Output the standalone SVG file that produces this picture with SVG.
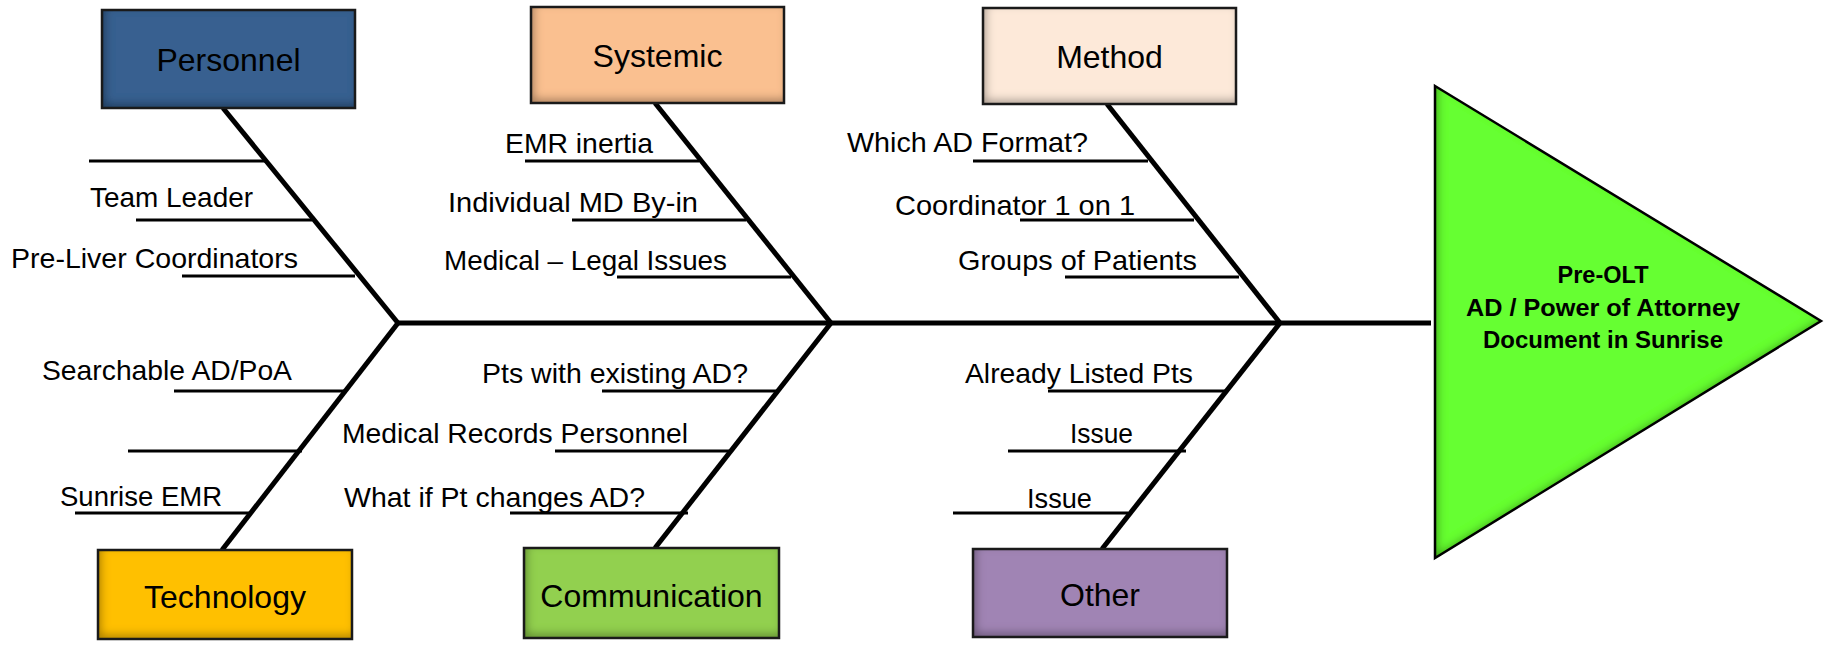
<svg xmlns="http://www.w3.org/2000/svg" width="1827" height="647" viewBox="0 0 1827 647">
<style>
.box{stroke:#1a1a1a;stroke-width:2.5}
.blabel{font-family:"Liberation Sans",Arial,sans-serif;font-size:32px;fill:#000;text-anchor:middle}
.lbl{font-family:"Liberation Sans",Arial,sans-serif;font-size:28px;fill:#000}
.bone{stroke:#000;stroke-width:5;stroke-linecap:butt;fill:none}
.sub{stroke:#000;stroke-width:2.8;fill:none}
.head{font-family:"Liberation Sans",Arial,sans-serif;font-size:24px;font-weight:bold;fill:#000;text-anchor:middle}
</style>
<defs>
<filter id="inner" x="-10%" y="-10%" width="120%" height="120%">
<feFlood flood-color="#000" flood-opacity="0.65" result="f"/>
<feComposite in="f" in2="SourceAlpha" operator="out" result="inv"/>
<feGaussianBlur in="inv" stdDeviation="5" result="b"/>
<feOffset in="b" dx="3" dy="-4" result="o"/>
<feComposite in="o" in2="SourceAlpha" operator="in" result="s"/>
<feMerge><feMergeNode in="SourceGraphic"/><feMergeNode in="s"/></feMerge>
</filter>
</defs>
<rect width="1827" height="647" fill="#fff"/>

<g id="connectors">
<line class="bone" x1="397" y1="323" x2="1431" y2="323"/>
<line class="bone" x1="223" y1="108" x2="398" y2="323"/>
<line class="bone" x1="655" y1="103" x2="831" y2="323"/>
<line class="bone" x1="1107" y1="104" x2="1280" y2="323"/>
<line class="bone" x1="222" y1="550" x2="398" y2="323"/>
<line class="bone" x1="655" y1="548" x2="831" y2="323"/>
<line class="bone" x1="1102" y1="549" x2="1280" y2="323"/>
<line class="sub" x1="89" y1="161" x2="265" y2="161"/>
<line class="sub" x1="136" y1="220" x2="312" y2="220"/>
<line class="sub" x1="182" y1="276" x2="355" y2="276"/>
<line class="sub" x1="525" y1="161" x2="699" y2="161"/>
<line class="sub" x1="572" y1="220" x2="746" y2="220"/>
<line class="sub" x1="617" y1="277" x2="791" y2="277"/>
<line class="sub" x1="973" y1="161" x2="1148" y2="161"/>
<line class="sub" x1="1020" y1="220" x2="1194" y2="220"/>
<line class="sub" x1="1065" y1="277" x2="1239" y2="277"/>
<line class="sub" x1="174" y1="391" x2="347" y2="391"/>
<line class="sub" x1="128" y1="451" x2="302" y2="451"/>
<line class="sub" x1="75" y1="513" x2="250" y2="513"/>
<line class="sub" x1="602" y1="391" x2="777" y2="391"/>
<line class="sub" x1="555" y1="451" x2="729" y2="451"/>
<line class="sub" x1="510" y1="513" x2="688" y2="513"/>
<line class="sub" x1="1048" y1="391" x2="1225" y2="391"/>
<line class="sub" x1="1008" y1="451" x2="1186" y2="451"/>
<line class="sub" x1="953" y1="513" x2="1128" y2="513"/>
</g>

<g id="personnel">
<rect x="102" y="10" width="253" height="98" fill="#386190" filter="url(#inner)"/>
<rect class="box" x="102" y="10" width="253" height="98" fill="none"/>
<text class="blabel" x="228.5" y="71">Personnel</text>
</g>
<g id="personnel-causes">
<text class="lbl" x="90" y="207" textLength="163" lengthAdjust="spacingAndGlyphs">Team Leader</text>
<text class="lbl" x="11" y="268" textLength="287" lengthAdjust="spacingAndGlyphs">Pre-Liver Coordinators</text>
</g>

<g id="systemic">
<rect x="531" y="7" width="253" height="96" fill="#FAC090" filter="url(#inner)"/>
<rect class="box" x="531" y="7" width="253" height="96" fill="none"/>
<text class="blabel" x="657.5" y="67">Systemic</text>
</g>
<g id="systemic-causes">
<text class="lbl" x="505" y="153" textLength="148" lengthAdjust="spacingAndGlyphs">EMR inertia</text>
<text class="lbl" x="448" y="212" textLength="250" lengthAdjust="spacingAndGlyphs">Individual MD By-in</text>
<text class="lbl" x="444" y="270" textLength="283" lengthAdjust="spacingAndGlyphs">Medical – Legal Issues</text>
</g>

<g id="method">
<rect x="983" y="8" width="253" height="96" fill="#FDE9D9" filter="url(#inner)"/>
<rect class="box" x="983" y="8" width="253" height="96" fill="none"/>
<text class="blabel" x="1109.5" y="68">Method</text>
</g>
<g id="method-causes">
<text class="lbl" x="847" y="152" textLength="241" lengthAdjust="spacingAndGlyphs">Which AD Format?</text>
<text class="lbl" x="895" y="215" textLength="240" lengthAdjust="spacingAndGlyphs">Coordinator 1 on 1</text>
<text class="lbl" x="958" y="270" textLength="239" lengthAdjust="spacingAndGlyphs">Groups of Patients</text>
</g>

<g id="technology">
<rect x="98" y="550" width="254" height="89" fill="#FFC000" filter="url(#inner)"/>
<rect class="box" x="98" y="550" width="254" height="89" fill="none"/>
<text class="blabel" x="225" y="608">Technology</text>
</g>
<g id="technology-causes">
<text class="lbl" x="42" y="380" textLength="250" lengthAdjust="spacingAndGlyphs">Searchable AD/PoA</text>
<text class="lbl" x="60" y="506" textLength="162" lengthAdjust="spacingAndGlyphs">Sunrise EMR</text>
</g>

<g id="communication">
<rect x="524" y="548" width="255" height="90" fill="#92D050" filter="url(#inner)"/>
<rect class="box" x="524" y="548" width="255" height="90" fill="none"/>
<text class="blabel" x="651.5" y="607">Communication</text>
</g>
<g id="communication-causes">
<text class="lbl" x="482" y="383" textLength="266" lengthAdjust="spacingAndGlyphs">Pts with existing AD?</text>
<text class="lbl" x="342" y="443" textLength="346" lengthAdjust="spacingAndGlyphs">Medical Records Personnel</text>
<text class="lbl" x="344" y="507" textLength="301" lengthAdjust="spacingAndGlyphs">What if Pt changes AD?</text>
</g>

<g id="other">
<rect x="973" y="549" width="254" height="88" fill="#A084B4" filter="url(#inner)"/>
<rect class="box" x="973" y="549" width="254" height="88" fill="none"/>
<text class="blabel" x="1100" y="606">Other</text>
</g>
<g id="other-causes">
<text class="lbl" x="965" y="383" textLength="228" lengthAdjust="spacingAndGlyphs">Already Listed Pts</text>
<text class="lbl" x="1070" y="443" textLength="63" lengthAdjust="spacingAndGlyphs">Issue</text>
<text class="lbl" x="1027" y="508" textLength="65" lengthAdjust="spacingAndGlyphs">Issue</text>
</g>

<g id="effect">
<polygon points="1435,86 1821,321 1435,558" fill="#66FF33" filter="url(#inner)"/>
<polygon points="1435,86 1821,321 1435,558" fill="none" stroke="#000" stroke-width="2.5" stroke-linejoin="miter"/>
<text class="head" x="1603" y="283" textLength="91" lengthAdjust="spacingAndGlyphs">Pre-OLT</text>
<text class="head" x="1603" y="316" textLength="274" lengthAdjust="spacingAndGlyphs">AD / Power of Attorney</text>
<text class="head" x="1603" y="348" textLength="240" lengthAdjust="spacingAndGlyphs">Document in Sunrise</text>
</g>
</svg>
